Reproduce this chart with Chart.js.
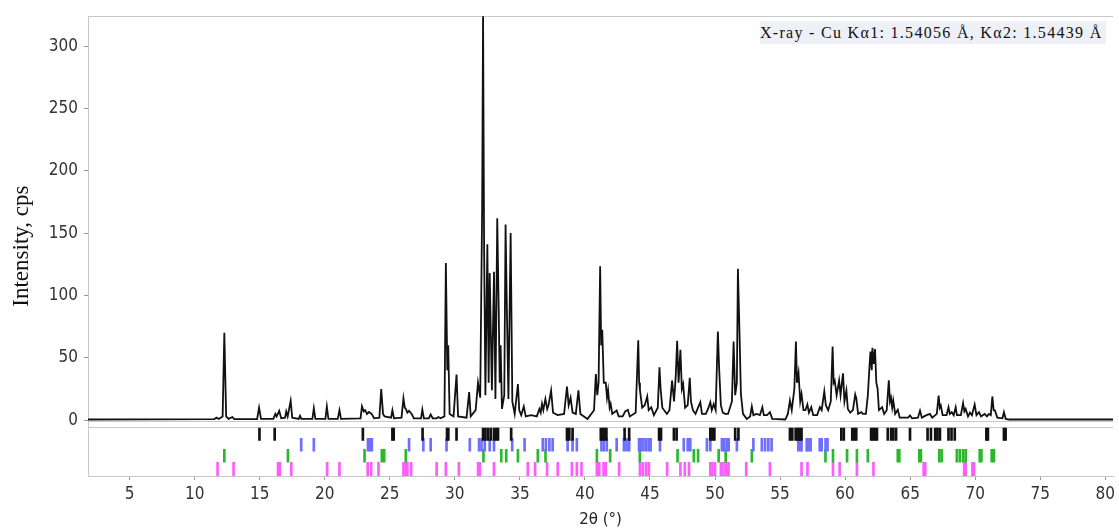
<!DOCTYPE html>
<html>
<head>
<meta charset="utf-8">
<script src="https://cdn.jsdelivr.net/npm/chart.js@4.4.1/dist/chart.umd.min.js"></script>
<style>
  body { margin: 0; background: #fff; }
  #wrap { position: relative; width: 1119px; height: 530px; }
  #note { position: absolute; left: 760px; top: 21px; width: 346px; height: 23px; background: #eef0f8;
          font: 16px 'Liberation Serif', 'Times New Roman', serif; letter-spacing: 1.3px; line-height: 23px;
          color: #111; white-space: nowrap; }
</style>
</head>
<body>
<div id="wrap">
  <canvas id="myChart" width="1119" height="530"></canvas>
  <div id="note">X-ray - Cu Kα1: 1.54056 Å, Kα2: 1.54439 Å</div>
</div>
<script>
var twoTheta = [
  1.8, 11.5, 11.7, 11.85, 12.15, 12.28, 12.42, 12.6, 12.9, 13.05,
  14.8, 14.95, 15.1, 16.05, 16.2, 16.3, 16.5, 16.65, 16.95, 17.04,
  17.15, 17.38, 17.5, 18.0, 18.1, 18.2, 19.05, 19.16, 19.28, 20.05,
  20.16, 20.28, 21.0, 21.13, 21.25, 22.75, 22.86, 23.0, 23.1, 23.25,
  23.4, 23.6, 23.8, 24.2, 24.34, 24.48, 24.6, 25.1, 25.2, 25.32,
  25.9, 26.05, 26.15, 26.23, 26.35, 26.48, 26.68, 26.85, 27.4, 27.5,
  27.62, 28.0, 28.14, 28.3, 28.6, 28.73, 28.9, 29.2, 29.31, 29.42,
  29.49, 29.6, 29.9, 30.13, 30.25, 30.9, 31.1, 31.22, 31.6, 31.78,
  31.95, 32.1, 32.17, 32.25, 32.35, 32.5, 32.6, 32.68, 32.85, 33.01,
  33.12, 33.26, 33.37, 33.45, 33.52, 33.62, 33.8, 33.9, 34.0, 34.12,
  34.29, 34.42, 34.6, 34.85, 34.95, 35.1, 35.3, 35.45, 35.86, 36.3,
  36.5, 36.6, 36.7, 36.8, 36.96, 37.1, 37.2, 37.4, 37.55, 37.9,
  38.4, 38.62, 38.75, 38.9, 39.05, 39.3, 39.5, 39.65, 40.2, 40.7,
  40.84, 40.95, 41.05, 41.17, 41.25, 41.33, 41.45, 41.6, 41.7, 41.78,
  41.9, 41.98, 42.1, 42.44, 42.6, 42.9, 43.1, 43.3, 43.45, 43.9,
  44.1, 44.17, 44.23, 44.4, 44.6, 44.79, 44.9, 45.1, 45.3, 45.6,
  45.73, 45.82, 45.95, 46.3, 46.5, 46.7, 46.85, 46.98, 47.09, 47.2,
  47.34, 47.45, 47.55, 47.7, 47.9, 48.06, 48.15, 48.3, 48.5, 48.87,
  49.0, 49.3, 49.5, 49.64, 49.75, 49.9, 50.05, 50.22, 50.32, 50.45,
  50.6, 50.78, 51.0, 51.3, 51.43, 51.55, 51.68, 51.76, 51.89, 51.99,
  52.15, 52.44, 52.7, 52.83, 52.95, 53.2, 53.45, 53.64, 53.75, 54.0,
  54.22, 54.4, 55.4, 55.6, 55.76, 55.9, 56.1, 56.22, 56.3, 56.42,
  56.55, 56.65, 56.8, 56.95, 57.1, 57.22, 57.4, 57.55, 57.85, 58.06,
  58.2, 58.4, 58.52, 58.7, 58.9, 59.04, 59.12, 59.2, 59.35, 59.54,
  59.65, 59.84, 59.95, 60.1, 60.21, 60.4, 60.6, 60.78, 60.86, 61.0,
  61.24, 61.37, 61.6, 61.75, 61.88, 61.95, 62.05, 62.1, 62.2, 62.3,
  62.4, 62.5, 62.6, 62.85, 63.0, 63.2, 63.36, 63.45, 63.53, 63.62,
  63.7, 63.85, 64.05, 64.2, 64.43, 64.85, 64.99, 65.15, 65.6, 65.76,
  65.9, 66.22, 66.52, 66.7, 67.05, 67.19, 67.28, 67.36, 67.5, 67.8,
  67.95, 68.05, 68.2, 68.35, 68.5, 68.6, 68.9, 69.07, 69.17, 69.27,
  69.45, 69.6, 69.75, 69.96, 70.1, 70.29, 70.45, 70.73, 70.9, 71.06,
  71.2, 71.32, 71.42, 71.52, 71.7, 72.1, 72.21, 72.35, 72.6, 80.6
];
var counts = [
  0.5, 0.8, 2, 1, 3, 70, 3, 1, 2.5, 0.8,
  0.8, 10, 1, 1, 5, 3, 7.5, 1.5, 2, 7,
  3, 15.5, 2, 1, 3.5, 1, 1, 9.5, 1, 1,
  11, 1, 1, 8, 1, 1.5, 11, 7, 8, 5,
  6.5, 5, 1.5, 2, 25, 5, 3, 2, 8, 1.5,
  2, 17.5, 10, 9, 6, 7.5, 5, 1.5, 1.5, 8.5,
  1.5, 1.5, 4.5, 1.5, 1.5, 2.5, 1.5, 3, 126, 40,
  60, 5, 3, 36.5, 3, 2, 22.5, 3, 8, 30,
  18, 171, 325, 138, 20, 141, 30, 118, 24, 119,
  17, 162, 90, 30, 60, 9, 20, 157, 89, 17,
  150, 15, 5, 29, 8, 4, 11, 3, 4, 3,
  9, 6, 13, 8, 17, 9, 12, 23.7, 6, 4,
  5, 27, 12, 18, 6, 5, 24, 5, 1, 8,
  37, 20, 30, 123.5, 60, 72.4, 30, 30, 18, 24,
  10, 13, 5, 7.7, 3, 3, 7, 8.3, 3, 6,
  64, 30, 24, 10, 12, 19, 8, 10.4, 4, 10,
  42.3, 25, 10, 5, 8, 31.7, 15, 35, 63.6, 30,
  56.5, 25, 29, 10, 12, 34, 15, 8, 5, 14.4,
  5, 5, 10, 14.4, 8, 13, 8, 71, 41, 12,
  6, 5, 5, 15, 63, 20, 30, 121.4, 67, 21,
  5, 1, 3, 11, 4, 5, 4, 10.4, 4, 4,
  6.4, 1, 0.5, 5, 15.7, 8, 25, 63, 30, 38,
  15, 21, 8, 8, 12.5, 6, 10.4, 4, 4, 10.4,
  8, 23, 12, 8, 15, 59, 30, 31.7, 20, 31.7,
  20, 37.5, 15, 23.7, 9, 6, 8, 20.5, 17.6, 5,
  6.4, 5, 5, 20, 43.7, 55, 40, 58, 45, 57,
  30, 25, 8, 10.4, 5, 8, 32, 15, 18, 10,
  15.7, 5, 8.3, 2, 2, 2, 3.8, 1.5, 2, 7.7,
  2, 3.8, 5, 2, 5, 19.7, 10, 11.7, 4, 4,
  10.4, 5, 6.4, 4, 10.4, 4, 4, 13.6, 7, 9,
  3, 6, 4, 12.5, 4, 6.4, 3, 5, 3, 5,
  4, 19, 8, 7.7, 2, 1.5, 6.4, 1, 0.5, 0.5
];

// reference reflection positions (2θ) for the four phases
var refBlack = [14.98, 16.15, 22.93, 25.2, 25.3, 27.52, 29.4, 29.5, 30.13, 32.17, 32.35, 32.55, 32.76, 33.01, 33.19,
  33.32, 34.33, 38.62, 38.8, 39.05, 41.22, 41.35, 41.5, 41.65, 43.05, 43.4, 45.7, 45.85, 46.84, 47.05, 49.64, 49.8,
  49.95, 51.55, 51.8, 55.76, 55.94, 56.2, 56.35, 56.5, 56.65, 59.71, 59.9, 60.55, 60.7, 60.86, 62.0, 62.15, 62.3,
  62.45, 63.28, 63.54, 63.71, 63.92, 64.99, 66.34, 66.6, 66.93, 67.1, 67.29, 67.95, 68.18, 68.43, 70.86, 70.98,
  72.21, 72.34];
var refBlue = [18.19, 19.16, 23.32, 23.45, 23.62, 26.48, 27.58, 28.14, 29.36, 31.15, 31.86, 32.05, 32.3, 32.68, 33.01,
  34.41, 35.36, 36.76, 37.0, 37.27, 37.52, 38.67, 39.05, 39.38, 41.27, 41.45, 41.68, 42.44, 43.0, 43.2, 43.4, 44.16,
  44.3, 44.5, 44.7, 44.9, 45.05, 45.77, 47.6, 47.9, 48.1, 49.38, 49.64, 50.53, 50.7, 50.9, 51.05, 51.68, 52.95, 53.6,
  53.85, 54.1, 54.35, 56.4, 56.55, 56.65, 57.05, 57.2, 57.35, 58.05, 58.2, 58.5, 58.65];
var refGreen = [12.28, 17.17, 23.06, 24.39, 24.57, 26.23, 32.2, 33.57, 33.95, 34.85, 36.38, 36.97, 40.92, 41.94, 44.22,
  47.12, 48.37, 48.7, 50.28, 50.82, 52.83, 58.49, 59.07, 60.15, 60.91, 61.75, 64.05, 64.17, 65.7, 65.83, 67.24, 67.42,
  68.59, 68.82, 69.07, 69.27, 70.35, 70.48, 71.27, 71.44];
var refMagenta = [11.76, 12.99, 16.41, 16.54, 17.43, 20.18, 21.13, 23.3, 23.57, 24.13, 26.05, 26.2, 26.35, 26.64, 28.6,
  29.31, 30.31, 31.79, 31.92, 33.01, 35.61, 36.17, 37.09, 37.91, 39.0, 39.38, 39.74, 40.92, 41.1, 41.43, 41.6, 42.63,
  44.23, 44.45, 44.7, 44.92, 46.32, 47.34, 47.68, 48.0, 49.64, 49.8, 50.0, 50.45, 50.65, 50.85, 51.04, 52.4, 54.22,
  56.65, 57.11, 59.07, 59.58, 60.91, 62.18, 66.04, 66.16, 69.15, 69.27, 69.79, 69.91];

var angleTicks = [5, 10, 15, 20, 25, 30, 35, 40, 45, 50, 55, 60, 65, 70, 75, 80];
var intensityTicks = [0, 50, 100, 150, 200, 250, 300];

var frameGray = '#c8c8c8';
var tickFont = { family: "'Liberation Sans Narrow', 'DejaVu Sans Condensed', sans-serif", size: 17 };

// each phase is drawn as a row of short floating bars below the zero line
function markRow(list, lo, hi, color) {
  return {
    type: 'bar',
    data: list.map(function (a) { return { x: a, y: [lo, hi] }; }),
    backgroundColor: color,
    borderWidth: 0,
    barThickness: 2,
    grouped: false
  };
}

var element = document.getElementById('myChart').getContext('2d');
var chartData = {
  datasets: [
    {
      type: 'line',
      label: 'pattern',
      data: twoTheta.map(function (a, i) { return { x: a, y: counts[i] }; }),
      borderColor: '#111',
      borderWidth: 1.8,
      pointRadius: 0,
      tension: 0
    },
    markRow(refBlack, -16.2, -6.4, '#111111'),
    markRow(refBlue, -24.8, -14.6, '#6e6eff'),
    markRow(refGreen, -33.8, -23.4, '#2cb82c'),
    markRow(refMagenta, -44.8, -33.8, '#ff5cff')
  ]
};

var chartOptions = {
  responsive: false,
  animation: false,
  layout: { padding: { top: 14, right: 1, left: 0, bottom: 0 } },
  plugins: { legend: { display: false }, tooltip: { enabled: false } },
  scales: {
    x: {
      type: 'linear', min: 1.8, max: 80.6, offset: false,
      afterBuildTicks: function (s) { s.ticks = angleTicks.map(function (v) { return { value: v }; }); },
      afterFit: function (s) { s.height = 54; },
      ticks: { autoSkip: false, maxRotation: 0, padding: 4, color: '#333', font: tickFont },
      grid: { offset: false, drawOnChartArea: false, tickLength: 4, color: '#999' },
      border: { display: true, color: frameGray },
      title: { display: true, text: '2θ (°)', color: '#222', font: { family: "'DejaVu Sans', sans-serif", size: 15 },
               padding: { top: 0, bottom: 1 } }
    },
    y: {
      type: 'linear', min: -44.8, max: 324,
      afterBuildTicks: function (s) {
        s.ticks = [-44.8, -6, -1].concat(intensityTicks, [324]).map(function (v) { return { value: v }; });
      },
      afterFit: function (s) { s.width = 88; },
      ticks: {
        autoSkip: false, padding: 6, color: '#333', font: tickFont,
        callback: function (v) { return intensityTicks.indexOf(v) >= 0 ? String(v) : ''; }
      },
      grid: {
        tickLength: 4,
        color: function (ctx) {
          var v = ctx.tick ? ctx.tick.value : null;
          return (v === -6 || v === -1 || v === 324) ? frameGray : 'rgba(0,0,0,0)';
        },
        tickColor: function (ctx) {
          return ctx.tick && intensityTicks.indexOf(ctx.tick.value) >= 0 ? '#999' : 'rgba(0,0,0,0)';
        }
      },
      border: { display: true, color: frameGray },
      title: { display: true, text: 'Intensity, cps', color: '#111',
               font: { family: "'Liberation Serif', 'Times New Roman', serif", size: 23 }, padding: { top: 8 } }
    }
  }
};

var chart = new Chart(element, { type: 'line', data: chartData, options: chartOptions });
</script>
</body>
</html>
